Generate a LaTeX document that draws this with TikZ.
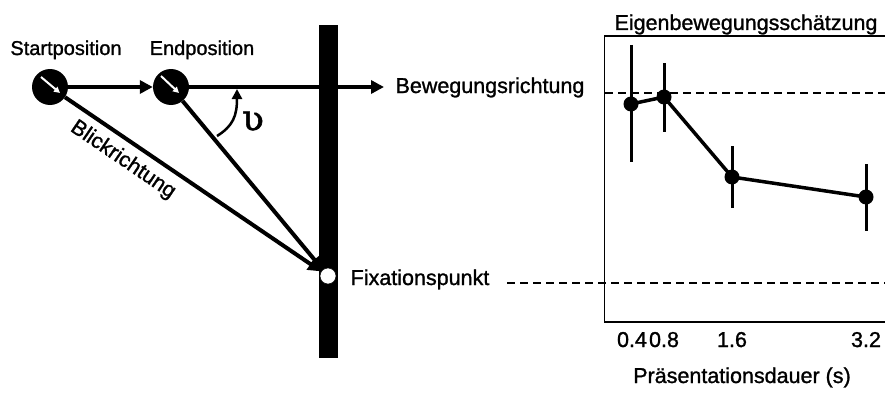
\documentclass[tikz,border=0pt]{standalone}
\usepackage{fontspec}
\setmainfont[FakeBold=1.2]{Liberation Sans}
\newfontfamily\hookfont[FakeBold=1.5]{DejaVu Serif}
\usetikzlibrary{arrows.meta}
\tikzset{
  lblL/.style={font=\fontsize{20}{24}\selectfont, inner sep=0pt, anchor=base},
  lbl/.style={font=\fontsize{21.5}{24}\selectfont, inner sep=0pt, anchor=base},
  heavy/.style={line width=4pt},
  arr/.style={-{Triangle[length=13pt,width=13pt]}},
  posdot/.style={circle, fill=black, minimum size=36pt, inner sep=0pt},
  fixdot/.style={circle, fill=white, draw=black, line width=0.5pt, minimum size=16pt, inner sep=0pt},
  datadot/.style={circle, fill=black, minimum size=15pt, inner sep=0pt},
  errbar/.style={line width=3pt},
  axisline/.style={line width=1.5pt},
  refdash/.style={line width=1.5pt, dash pattern=on 8pt off 5pt},
  gaze/.style={white, line width=2pt, -{Triangle[length=6pt,width=6pt]}}
}
\begin{document}
\begin{tikzpicture}[x=1pt,y=-1pt]
\useasboundingbox (0,0) rectangle (885,396);
% wall
\fill (319,25) rectangle (338,358);
% positions
\node[posdot] (start) at (50,87) {};
\node[posdot] (end) at (171,87) {};
\node[fixdot] (fix) at (328,276) {};
\draw[gaze] (41,77) -- (60,93);
\draw[gaze] (161,76) -- (179,93);
\node[lblL] (startlbl) at (66,55) {Startposition};
\node[lblL] (endlbl) at (202,55) {Endposition};
\coordinate (bewtip) at (384,87);
\node[lbl] (bew) at (490,93) {Bewegungsrichtung};
\node[lbl] (fixlbl) at (420,285) {Fixationspunkt};
% connectors
\draw[heavy, arr] (start) -- (end);
\draw[heavy, arr] (end.east) -- (bewtip);
\draw[heavy, arr] (start) -- (fix);
\draw[heavy, arr] (end) -- (fix);
\node[font=\fontsize{21.5}{24}\selectfont, inner sep=0pt, rotate=-34.2] (blick) at (123,160) {Blickrichtung};
% angle
\coordinate (arcA) at (217,136);
\coordinate (arcB) at (237,89);
\draw[line width=2.5pt, -{Triangle[length=10pt,width=10pt]}] (arcA) .. controls (233,126) and (237,116) .. (arcB);
\node[inner sep=0pt, font=\hookfont\fontsize{36}{36}\selectfont] (nu) at (253,121) {ʋ};
% plot
\node[lbl] (title) at (746,30) {Eigenbewegungsschätzung};
\draw[axisline] (885,36) -- (604.5,36) -- (604.5,322) -- (885,322);
\draw[refdash] (605,93) -- (885,93);
\draw[refdash] (507,283) -- (885,283);
\draw[errbar] (631,45) -- (631,162);
\draw[errbar] (664,63) -- (664,132);
\draw[errbar] (732,146) -- (732,208);
\draw[errbar] (866,164) -- (866,231);
\node[datadot] (p1) at (631,104) {};
\node[datadot] (p2) at (664,97) {};
\node[datadot] (p3) at (732,177) {};
\node[datadot] (p4) at (866,197) {};
\draw[line width=3.5pt, line join=round] (p1.center) -- (p2.center) -- (p3.center) -- (p4.center);
\node[lbl] (t1) at (632,347) {0.4};
\node[lbl] (t2) at (664,347) {0.8};
\node[lbl] (t3) at (732,347) {1.6};
\node[lbl] (t4) at (866,347) {3.2};
\node[lbl] (xlab) at (742,383) {Präsentationsdauer (s)};
\end{tikzpicture}
\end{document}
